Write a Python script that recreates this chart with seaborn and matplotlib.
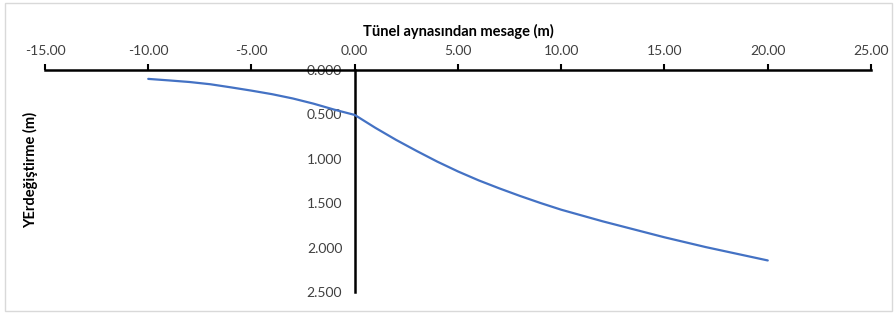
import numpy as np
import pandas as pd
import matplotlib
matplotlib.use('Agg')
import matplotlib.pyplot as plt
import matplotlib.ticker as mticker
from matplotlib.patches import Rectangle
import seaborn as sns

# ── Data ──────────────────────────────────────────────────────────────────
distance = [-10, -9, -8, -7, -6, -5, -4, -3, -2, -1, 0,
            1, 2, 3, 4, 5, 6, 7, 8, 9, 10,
            11, 12, 13, 14, 15, 16, 17, 18, 19, 20]
displacement = [0.100, 0.117, 0.135, 0.160, 0.195, 0.232, 0.272, 0.320, 0.378, 0.445, 0.505,
                0.650, 0.785, 0.910, 1.030, 1.140, 1.240, 1.330, 1.415, 1.495, 1.570,
                1.635, 1.700, 1.760, 1.820, 1.880, 1.935, 1.990, 2.040, 2.090, 2.140]

x_ticks = [-15, -10, -5, 0, 5, 10, 15, 20, 25]
y_ticks = [0.0, 0.5, 1.0, 1.5, 2.0, 2.5]

LINE_BLUE = '#4472C4'
TEXT_GRAY = '#404040'

sns.set_style('white')
plt.rcParams['font.family'] = ['Lato', 'DejaVu Sans']

df = pd.DataFrame({'x': distance, 'y': displacement})

fig = plt.figure(figsize=(8.96, 3.14), dpi=100)
ax = fig.add_axes([0.0502, 0.0685, 0.9219, 0.7086])

sns.lineplot(data=df, x='x', y='y', ax=ax, color=LINE_BLUE, linewidth=1.6,
             sort=False, zorder=3)

ax.set_xlim(-15, 25)
ax.set_ylim(2.5, 0)
ax.set_xticks(x_ticks)
ax.set_yticks(y_ticks)
ax.xaxis.set_major_formatter(mticker.FormatStrFormatter('%.2f'))
ax.yaxis.set_major_formatter(mticker.FormatStrFormatter('%.3f'))

# axes crossing like in Excel
for s in ['right', 'bottom']:
    ax.spines[s].set_visible(False)
ax.spines['left'].set_position(('data', 0))
for s in ['left', 'top']:
    ax.spines[s].set_color('black')
    ax.spines[s].set_linewidth(1.8)

ax.xaxis.tick_top()
ax.xaxis.set_label_position('top')
ax.tick_params(axis='x', direction='out', length=4, width=1.5, color='black',
               labelsize=10, labelcolor=TEXT_GRAY, pad=5)
ax.tick_params(axis='y', direction='out', length=4, width=1.5, color='black',
               labelsize=10, labelcolor=TEXT_GRAY, pad=5)

ax.set_xlabel('Tünel aynasından mesage (m)', fontsize=10.5, fontweight='bold',
              color='black', labelpad=7)
ax.set_ylabel('YErdeğiştirme (m)', fontsize=10.5, fontweight='bold', color='black')
ax.yaxis.set_label_coords(-0.008, 0.55)

# chart-area border
fig.patches.append(Rectangle((5 / 896, 3 / 314), 887 / 896, 308 / 314,
                             transform=fig.transFigure, fill=False,
                             edgecolor='#D9D9D9', linewidth=1.0))

fig.savefig('out.png', dpi=100)
